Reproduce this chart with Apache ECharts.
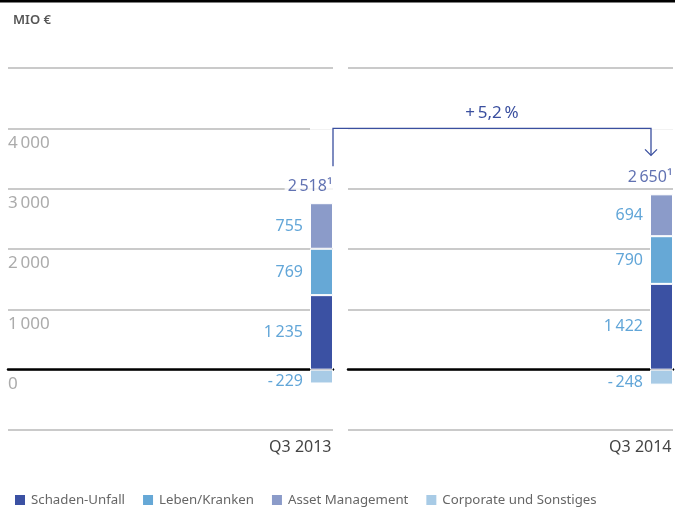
<!DOCTYPE html>
<html>
<head>
<meta charset="utf-8">
<script src="https://cdn.jsdelivr.net/npm/echarts@6/dist/echarts.min.js"></script>
<style>
html,body{margin:0;padding:0;background:#fff;}
#chart{width:675px;height:509px;}
</style>
</head>
<body>
<div id="chart"></div>
<script>
// ---- Daten (Mio €) ----
var quarters = ['Q3 2013', 'Q3 2014'];
var schadenUnfall = [1235, 1422];
var lebenKranken = [769, 790];
var assetManagement = [755, 694];
var corporate = [-229, -248];
var totals = [2518, 2650];
var growthText = '+\u20095,2\u2009%';
var yTicks = [0, 1000, 2000, 3000, 4000];

var FONT = "'Noto Sans', 'Open Sans', sans-serif";
var DARK = '#3a4f9f';
var LABEL = '#62a6d8';
var BARW = 23;

// 1 235 / - 229
function fmt(v) {
	var s = String(Math.abs(v));
	if (s.length > 3) s = s.slice(0, s.length - 3) + '\u2009' + s.slice(-3);
	return (v < 0 ? '-\u2009' : '') + s;
}

// Oberkante der positiven Stapel (für Summenbeschriftung)
var tops = quarters.map(function (q, i) {
	return schadenUnfall[i] + lebenKranken[i] + assetManagement[i];
});

function segment(name, data, color, offsetY) {
	return {
		name: name,
		type: 'bar',
		stack: 'q',
		xAxisIndex: 2,
		yAxisIndex: 2,
		barWidth: BARW,
		data: data,
		itemStyle: { color: color, borderColor: '#fff', borderWidth: 1 },
		label: {
			show: true,
			position: 'left',
			distance: 7,
			offset: [0, offsetY || 0],
			color: LABEL,
			fontSize: 16,
			fontFamily: FONT,
			formatter: function (p) { return fmt(p.value); }
		}
	};
}

function panelY(showLabels) {
	return {
		type: 'value',
		min: -1000,
		max: 5000,
		interval: 1000,
		axisLine: { show: false },
		axisTick: { show: false },
		splitLine: { show: true, lineStyle: { color: '#b9b9b9', width: 1.5 } },
		axisLabel: {
			show: showLabels,
			inside: true,
			margin: 0,
			align: 'left',
			verticalAlign: 'top',
			padding: [6, 0, 0, 0],
			color: '#ababab',
			fontSize: 17,
			fontFamily: FONT,
			formatter: function (v) { return yTicks.indexOf(v) >= 0 ? fmt(v) : ''; }
		}
	};
}

function panelX() {
	return {
		type: 'category',
		data: [''],
		axisTick: { show: false },
		axisLabel: { show: false },
		axisLine: { show: true, onZero: true, lineStyle: { color: '#000', width: 2.5 } }
	};
}

var option = {
	animation: false,
	backgroundColor: '#fff',
	title: {
		text: 'MIO €',
		left: 13,
		top: 14,
		padding: 0,
		textStyle: { fontSize: 13, fontWeight: 600, color: '#555', fontFamily: FONT }
	},
	legend: {
		left: 13,
		top: 493,
		padding: 0,
		icon: 'rect',
		itemWidth: 12,
		itemHeight: 12,
		itemGap: 16,
		data: ['Schaden-Unfall', 'Leben/Kranken', 'Asset Management', 'Corporate und Sonstiges'],
		textStyle: { fontSize: 13.25, color: '#666', fontFamily: FONT }
	},
	grid: [
		{ left: 8, width: 325, top: 68, bottom: 79, outerBoundsMode: 'none' },
		{ left: 348, width: 325, top: 68, bottom: 79, outerBoundsMode: 'none' },
		{ left: 321.5 - 170, width: 680, top: 68, bottom: 79, outerBoundsMode: 'none' }
	],
	xAxis: [
		Object.assign(panelX(), { gridIndex: 0 }),
		Object.assign(panelX(), { gridIndex: 1 }),
		{
			gridIndex: 2,
			type: 'category',
			data: quarters,
			position: 'bottom',
			axisLine: { show: false, onZero: false },
			axisTick: { show: false },
			axisLabel: {
				margin: 9,
				align: 'right',
				padding: [0, -10, 0, 0],
				color: '#444',
				fontSize: 16,
				fontFamily: FONT
			}
		}
	],
	yAxis: [
		Object.assign(panelY(true), { gridIndex: 0 }),
		Object.assign(panelY(false), { gridIndex: 1 }),
		{ gridIndex: 2, type: 'value', min: -1000, max: 5000, interval: 1000, show: false, splitLine: { show: false } }
	],
	series: [
		segment('Schaden-Unfall', schadenUnfall, '#3b51a3'),
		segment('Leben/Kranken', lebenKranken, '#66a8d6'),
		segment('Asset Management', assetManagement, '#8b9bc9'),
		segment('Corporate und Sonstiges', corporate, '#a8cbe6', 5),
		{
			name: 'Gesamt',
			type: 'scatter',
			xAxisIndex: 2,
			yAxisIndex: 2,
			symbolSize: 0,
			data: tops.map(function (t, i) { return [i, t]; }),
			label: {
				show: true,
				position: 'top',
				distance: 8,
				align: 'right',
				offset: [14, 0],
				color: DARK,
				fontSize: 16,
				fontFamily: FONT,
				backgroundColor: '#fff',
				padding: [1, 3],
				formatter: function (p) { return fmt(totals[p.dataIndex]) + '\u00b9'; }
			}
		}
	]
};

var chart = echarts.init(document.getElementById('chart'));
chart.setOption(option);

// ---- Pfeil mit Veränderung ----
var pL = chart.convertToPixel({ xAxisIndex: 2, yAxisIndex: 2 }, [0, tops[0]]);
var pR = chart.convertToPixel({ xAxisIndex: 2, yAxisIndex: 2 }, [1, tops[1]]);
var y4000 = chart.convertToPixel({ yAxisIndex: 2 }, 4000);
var xStart = pL[0] + BARW / 2;
var xEnd = pR[0] - BARW / 2 + 1;
var yStart = pL[1] - 37;
var yTip = pR[1] - 39;

chart.setOption({
	graphic: [
		{ type: 'rect', shape: { x: 0, y: 0, width: 675, height: 2.5 }, style: { fill: '#000' }, z: 10 },
		{ type: 'line', shape: { x1: pL[0] - BARW / 2, y1: y4000, x2: pR[0] + BARW / 2, y2: y4000 }, style: { stroke: '#fff', lineWidth: 3 }, z: 10 },
		{
			type: 'polyline',
			shape: { points: [[xStart, yStart], [xStart, y4000], [xEnd, y4000], [xEnd, yTip]] },
			style: { stroke: DARK, lineWidth: 1.3, fill: null },
			z: 11
		},
		{
			type: 'polyline',
			shape: { points: [[xEnd - 6, yTip - 6], [xEnd, yTip], [xEnd + 6, yTip - 6]] },
			style: { stroke: DARK, lineWidth: 1.3, fill: null },
			z: 11
		},
		{
			type: 'text',
			x: (xStart + xEnd) / 2,
			y: y4000 - 15,
			style: { text: growthText, fill: DARK, font: '17px ' + FONT, textAlign: 'center', textVerticalAlign: 'middle' },
			z: 11
		}
	]
});
</script>
</body>
</html>
